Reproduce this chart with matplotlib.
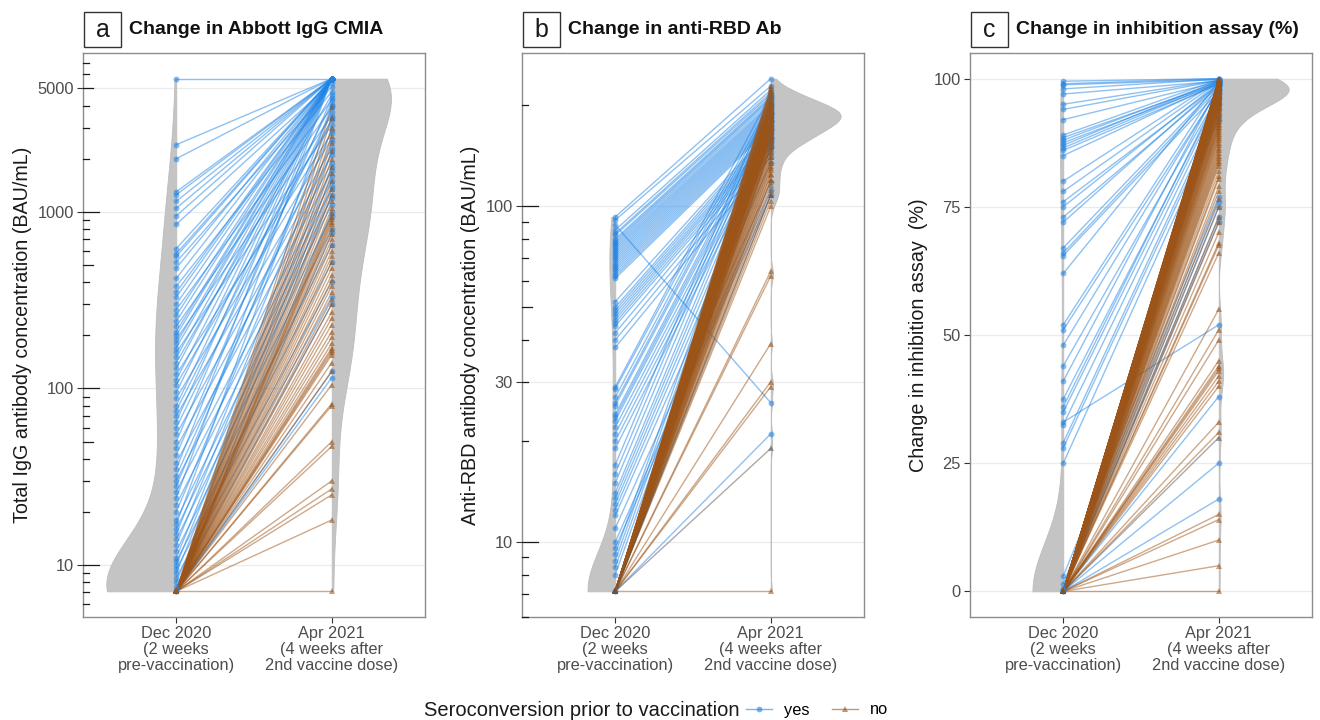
"""Paired antibody changes Dec 2020 -> Apr 2021 for three assays."""

import matplotlib

matplotlib.use("Agg")
import matplotlib.pyplot as plt
import numpy as np
from matplotlib import font_manager
from matplotlib.lines import Line2D
from matplotlib.patches import Rectangle
from matplotlib.ticker import NullLocator
from matplotlib.transforms import blended_transform_factory

TIMEPOINTS = [
    "Dec 2020\n(2 weeks\npre-vaccination)",
    "Apr 2021\n(4 weeks after\n2nd vaccine dose)",
]

# panel a: Abbott IgG CMIA, BAU/mL
A_YES_DEC = [
    5680, 2400, 2000, 1300, 1250, 1150, 1050, 950, 850, 620,
    580, 560, 520, 480, 420, 380, 350, 330, 300, 280,
    260, 240, 225, 210, 200, 190, 180, 170, 160, 150,
    140, 130, 120, 112, 105, 95, 88, 80, 75, 70,
    65, 60, 55, 50, 46, 42, 38, 35, 32, 30,
    28, 26, 24, 22, 20, 18, 17, 16, 15, 14,
    13, 12, 11, 10.5, 10, 9.5, 9, 8.5, 8, 7.5,
    7.1, 7.1, 7.1,
]
A_YES_APR = [
    5680, 5680, 5680, 5680, 5680, 5680, 5680, 5680, 5400, 5680,
    5680, 5680, 5100, 5680, 5680, 4800, 5680, 5680, 5680, 4300,
    5680, 5680, 3900, 5680, 5680, 3500, 5680, 5680, 3100, 5680,
    4600, 5680, 2800, 5680, 3300, 5680, 2600, 5680, 4100, 2300,
    5680, 3700, 2100, 5680, 1900, 4400, 1700, 5680, 2900, 1500,
    3400, 1350, 5680, 1200, 2500, 1100, 4000, 950, 2200, 800,
    1800, 650, 1600, 520, 1400, 400, 1250, 330, 1000, 300,
    760, 125, 115,
]
A_NO_DEC = [
    7.1, 7.1, 7.1, 7.1, 7.1, 7.1, 7.1, 7.1, 7.1, 7.1,
    7.1, 7.1, 7.1, 7.1, 7.1, 7.1, 7.1, 7.1, 7.1, 7.1,
    7.1, 7.1, 7.1, 7.1, 7.1, 7.1, 7.1, 7.1, 7.1, 7.1,
    7.1, 7.1, 7.1, 7.1, 7.1, 7.1, 7.1, 7.1, 7.1, 7.1,
    7.1, 7.1, 7.1, 7.1, 7.1, 7.1, 7.1, 7.1, 7.1, 7.1,
    7.1, 7.1, 7.1, 7.1, 7.1,
]
A_NO_APR = [
    7.1, 18, 25, 27, 30, 47, 50, 80, 82, 105,
    125, 140, 155, 160, 165, 170, 180, 195, 210, 230,
    250, 270, 300, 320, 350, 380, 410, 440, 480, 520,
    560, 600, 650, 700, 750, 800, 850, 880, 910, 940,
    980, 1050, 1150, 1250, 1350, 1500, 1650, 1800, 2000, 2200,
    2450, 2700, 3000, 3400, 3900,
]
A_NA_DEC = []
A_NA_APR = []

# panel b: anti-RBD antibody, BAU/mL
B_YES_DEC = [
    93, 91, 88, 85, 83, 82, 80, 79, 78, 77,
    76, 75, 74, 73, 72, 71, 70, 69, 68, 67,
    66, 65, 64, 63, 62, 61, 52, 50, 49, 48,
    47, 46, 45, 44, 42, 40, 38, 29, 28.5, 27,
    26, 25.5, 24, 23.5, 23, 22, 21, 20, 19, 17,
    16, 15, 14, 13.5, 13, 12.5, 12, 11, 10, 9.6,
    9.2, 8.8, 8.4, 8, 7.13, 7.13,
]
B_YES_APR = [
    240, 228, 26, 222, 218, 215, 212, 210, 208, 205,
    202, 200, 198, 196, 194, 192, 190, 188, 186, 184,
    182, 180, 178, 176, 174, 172, 170, 168, 165, 162,
    160, 158, 155, 152, 150, 145, 140, 215, 205, 200,
    195, 190, 185, 180, 175, 170, 165, 160, 155, 210,
    200, 190, 180, 170, 160, 150, 135, 118, 112, 108,
    190, 180, 170, 160, 21, 150,
]
B_NO_DEC = [
    7.13, 7.13, 7.13, 7.13, 7.13, 7.13, 7.13, 7.13, 7.13, 7.13, 7.13, 7.13, 7.13, 7.13, 7.13,
    7.13, 7.13, 7.13, 7.13, 7.13, 7.13, 7.13, 7.13, 7.13, 7.13, 7.13, 7.13, 7.13, 7.13, 7.13,
    7.13, 7.13, 7.13, 7.13, 7.13, 7.13, 7.13, 7.13, 7.13, 7.13, 7.13, 7.13, 7.13, 7.13, 7.13,
    7.13, 7.13, 7.13, 7.13, 7.13, 7.13, 7.13, 7.13, 7.13, 7.13, 7.13, 7.13, 7.13, 7.13, 7.13,
    7.13, 7.13, 7.13, 7.13, 7.13, 7.13, 7.13, 7.13, 7.13, 7.13, 7.13, 7.13, 7.13, 7.13, 7.13,
    7.13, 7.13, 7.13, 7.13, 7.13, 7.13, 7.13, 7.13, 7.13, 7.13, 7.13, 7.13, 7.13, 7.13, 7.13,
    7.13, 7.13, 7.13, 7.13, 7.13, 7.13, 7.13, 7.13, 7.13, 7.13, 7.13, 7.13, 7.13, 7.13, 7.13,
    7.13, 7.13, 7.13, 7.13, 7.13, 7.13, 7.13, 7.13, 7.13, 7.13,
]
B_NO_APR = [
    7.13, 29, 30, 39, 62, 64, 100, 104, 108, 112, 116, 120, 124, 128, 132,
    136, 140, 144, 148, 150, 152, 154, 156, 158, 160, 161, 162, 163, 164, 165,
    166, 167, 168, 169, 170, 171, 172, 173, 174, 175, 176, 177, 178, 179, 180,
    181, 182, 183, 184, 185, 186, 187, 188, 189, 190, 191, 192, 193, 194, 195,
    196, 197, 198, 199, 200, 201, 202, 203, 204, 205, 206, 208, 210, 212, 214,
    216, 218, 220, 222, 225, 228, 185, 180, 190, 175, 195, 185, 190, 180, 170,
    200, 188, 182, 178, 192, 186, 184, 176, 196, 172, 168, 205, 194, 183, 187,
    150, 140, 130, 120, 160, 155, 145, 135, 125, 165,
]
B_NA_DEC = [7.13, 7.13]
B_NA_APR = [19, 108]

# panel c: inhibition assay, %
C_YES_DEC = [
    99.5, 99, 98.8, 98, 97, 95, 94, 92, 89, 88.5,
    88, 87.5, 87, 86.5, 86, 85, 80, 78, 76, 75,
    73, 72, 67, 66, 65.5, 62, 52, 51, 48, 44,
    41, 37.5, 36, 35, 33, 32.5, 29, 28, 25, 3,
    1.5, 0.5, 0.3, 0.2, 0.1, 0, 0,
]
C_YES_APR = [
    100, 100, 99.8, 99.9, 99.5, 99.7, 99.6, 99.4, 99.8, 99.2,
    99.5, 99, 99.6, 99.3, 98.9, 99.1, 99.7, 99.4, 98.8, 99.2,
    98.5, 99, 98.7, 98.2, 97.5, 99.3, 98.8, 97.8, 98, 97,
    98.5, 96.5, 97.2, 96, 52, 95, 94, 93, 92, 77,
    76, 75, 73, 72, 38, 25, 18,
]
C_NO_DEC = [
    0, 0, 0, 0, 0, 0, 0, 0, 0, 0, 0, 0, 0, 0, 0,
    0, 0, 0, 0, 0, 0, 0, 0, 0, 0, 0, 0, 0, 0, 0,
    0, 0, 0, 0, 0, 0, 0, 0, 0, 0, 0, 0, 0, 0, 0,
    0, 0, 0, 0, 0, 0, 0, 0, 0, 0, 0, 0, 0, 0, 0,
    0, 0, 0, 0, 0, 0, 0, 0, 0, 0, 0, 0, 0, 0, 0,
    0, 0, 0, 0, 0, 0, 0, 0, 0, 0, 0, 0, 0, 0, 0,
    0, 0, 0, 0, 0, 0, 0, 0, 0, 0, 0, 0, 0, 0, 0,
    0, 0, 0, 0, 0, 0, 0, 0, 0, 0, 0, 0, 0, 0, 0,
    0, 0, 0, 0, 0, 0, 0, 0, 0, 0, 0, 0, 0, 0, 0,
    0, 0, 0, 0,
]
C_NO_APR = [
    99.9, 99.8, 99.8, 99.7, 99.7, 99.6, 99.6, 99.5, 99.5, 99.4, 99.4, 99.3, 99.3, 99.2, 99.2,
    99.1, 99.1, 99.0, 99.0, 98.9, 98.9, 98.8, 98.8, 98.7, 98.7, 98.6, 98.6, 98.5, 98.5, 98.4,
    98.4, 98.3, 98.3, 98.2, 98.2, 98.1, 98.1, 98.0, 98.0, 97.9, 97.9, 97.8, 97.8, 97.7, 97.7,
    97.6, 97.6, 97.5, 97.5, 97.4, 97.3, 97.2, 97.1, 97.0, 96.9, 96.8, 96.7, 96.6, 96.5, 96.4,
    96.3, 96.2, 96.1, 96.0, 95.9, 95.8, 95.7, 95.6, 95.5, 95.4, 95.3, 95.2, 95.1, 95.0, 94.8,
    94.6, 94.4, 94.2, 94.0, 93.8, 93.6, 93.4, 93.2, 93.0, 92.7, 92.4, 92.1, 91.8, 91.5, 91.2,
    90.9, 90.6, 90.3, 90.0, 89.6, 89.2, 88.8, 88.4, 88.0, 87.5, 87.0, 86.5, 86.0, 85.5, 85.0,
    84.5, 84.0, 83.5, 83.0, 82.0, 81.0, 80.5, 79.0, 78.0, 76.5, 75.0, 73.0, 72.0, 70.0, 68.0,
    67.5, 66.0, 55.0, 51.0, 49.0, 45.0, 44.0, 43.5, 43.0, 42.0, 41.0, 40.0, 33.0, 31.0, 15.0,
    14.0, 10.0, 5.0, 0.0,
]
C_NA_DEC = [0]
C_NA_APR = [30]

BLUE = "#1f84e6"
BROWN = "#9c5418"
GREY_NA = "#555555"
VIOLIN = "#c4c4c4"

_names = {f.name for f in font_manager.fontManager.ttflist}
SANS = "Liberation Sans" if "Liberation Sans" in _names else "DejaVu Sans"
NARROW = "Liberation Sans Narrow" if "Liberation Sans Narrow" in _names else None
plt.rcParams["font.family"] = SANS

W, H = 1320, 720
AX_LEFT = [83, 522, 970]
AX_W = 342
AX_TOP, AX_BOT = 53, 617


def nrd0(v):
    v = np.asarray(v, float)
    sd = v.std(ddof=1)
    q75, q25 = np.percentile(v, [75, 25])
    lo = min(sd, (q75 - q25) / 1.34)
    if lo <= 0:
        lo = sd if sd > 0 else 1.0
    return 0.9 * lo * len(v) ** -0.2


def density(v, n=512):
    v = np.asarray(v, float)
    bw = nrd0(v)
    grid = np.linspace(v.min(), v.max(), n)
    z = (grid[:, None] - v[None, :]) / bw
    d = np.exp(-0.5 * z * z).sum(axis=1) / (len(v) * bw * np.sqrt(2 * np.pi))
    return grid, d


def log_ticks(ax, lo, hi):
    trans = blended_transform_factory(ax.transAxes, ax.transData)
    for dec in range(int(np.floor(np.log10(lo))), int(np.ceil(np.log10(hi))) + 1):
        for m in range(1, 10):
            v = m * 10.0 ** dec
            if not lo <= v <= hi:
                continue
            length = 16 if m == 1 else (10 if m == 5 else 5.5)
            ax.plot([0, length / AX_W], [v, v], transform=trans,
                    color="#1a1a1a", lw=0.9, zorder=6, clip_on=False)


def draw_panel(i, letter, title, ylabel, log, yticks, groups):
    left = AX_LEFT[i]
    ax = fig.add_axes([left / W, (H - AX_BOT) / H, AX_W / W, (AX_BOT - AX_TOP) / H])
    dec_all = np.concatenate([np.asarray(g[0], float) for g in groups if len(g[0])])
    apr_all = np.concatenate([np.asarray(g[1], float) for g in groups if len(g[1])])
    tf = np.log10 if log else (lambda x: x)
    inv = (lambda x: 10.0 ** x) if log else (lambda x: x)

    # half violins, area-scaled like ggplot
    gd, dd = density(tf(dec_all))
    ga, da = density(tf(apr_all))
    scale = 0.45 / max(dd.max(), da.max())
    ax.fill_betweenx(inv(gd), -dd * scale, 0, facecolor=VIOLIN,
                     edgecolor="#bdbdbd", lw=0.6, zorder=1)
    ax.fill_betweenx(inv(ga), 1, 1 + da * scale, facecolor=VIOLIN,
                     edgecolor="#bdbdbd", lw=0.6, zorder=1)

    styles = {"yes": (BLUE, "o", 4.2), "no": (BROWN, "^", 5.0), "na": (GREY_NA, "^", 5.0)}
    for dec, apr, key in groups:
        if not len(dec):
            continue
        color = styles[key][0]
        ax.plot([0, 1], np.vstack([dec, apr]), color=color, alpha=0.5, lw=1.0, zorder=3)
    for dec, apr, key in groups:
        if not len(dec):
            continue
        color, marker, ms = styles[key]
        ax.plot(np.zeros(len(dec)), dec, ls="none", marker=marker, ms=ms,
                color=color, alpha=0.55, mew=0, zorder=4)
        ax.plot(np.ones(len(apr)), apr, ls="none", marker=marker, ms=ms,
                color=color, alpha=0.55, mew=0, zorder=4)

    lo_t = tf(min(dec_all.min(), apr_all.min()))
    hi_t = tf(max(dec_all.max(), apr_all.max()))
    pad = 0.05 * (hi_t - lo_t)
    if log:
        ax.set_yscale("log")
    ax.set_ylim(inv(lo_t - pad), inv(hi_t + pad))
    ax.set_xlim(-0.6, 1.6)
    ax.set_yticks(yticks)
    ax.set_yticklabels([str(t) for t in yticks])
    ax.yaxis.set_minor_locator(NullLocator())
    ax.set_xticks([0, 1])
    ax.set_xticklabels(TIMEPOINTS, linespacing=1.1)
    ax.tick_params(axis="both", direction="out", length=4, width=0.8,
                   color="#333333", labelcolor="#4d4d4d", labelsize=11.8, pad=2.5)
    ax.set_axisbelow(True)
    ax.yaxis.grid(True, color="#ebebeb", lw=0.9)
    for sp in ax.spines.values():
        sp.set_color("#8c8c8c")
        sp.set_linewidth(1.0)
    ax.set_ylabel(ylabel, fontsize=14.2, color="#1a1a1a", labelpad=4)
    if log:
        lo, hi = ax.get_ylim()
        log_ticks(ax, lo, hi)

    fig.add_artist(Rectangle(((left + 1) / W, (H - 47) / H), 37 / W, 35 / H,
                             transform=fig.transFigure, fill=False,
                             ec="#333333", lw=1.0))
    fig.text((left + 19.5) / W, (H - 30) / H, letter, ha="center", va="center",
             fontsize=18, color="#1a1a1a")
    if NARROW:
        fig.text((left + 46) / W, (H - 30) / H, title, ha="left", va="center",
                 fontsize=16.8, fontweight="bold", family=NARROW, color="#111111")
    else:
        fig.text((left + 46) / W, (H - 30) / H, title, ha="left", va="center",
                 fontsize=14, fontweight="bold", color="#111111")
    return ax


fig = plt.figure(figsize=(W / 100, H / 100), dpi=100)

draw_panel(0, "a", "Change in Abbott IgG CMIA",
           "Total IgG antibody concentration (BAU/mL)", True, [10, 100, 1000, 5000],
           [(A_YES_DEC, A_YES_APR, "yes"), (A_NO_DEC, A_NO_APR, "no"),
            (A_NA_DEC, A_NA_APR, "na")])
draw_panel(1, "b", "Change in anti-RBD Ab",
           "Anti-RBD antibody concentration (BAU/mL)", True, [10, 30, 100],
           [(B_YES_DEC, B_YES_APR, "yes"), (B_NO_DEC, B_NO_APR, "no"),
            (B_NA_DEC, B_NA_APR, "na")])
draw_panel(2, "c", "Change in inhibition assay (%)",
           "Change in inhibition assay  (%)", False, [0, 25, 50, 75, 100],
           [(C_YES_DEC, C_YES_APR, "yes"), (C_NO_DEC, C_NO_APR, "no"),
            (C_NA_DEC, C_NA_APR, "na")])

handles = [
    Line2D([], [], color=BLUE, marker="o", ms=4.2, lw=1.0, alpha=0.6, mew=0),
    Line2D([], [], color=BROWN, marker="^", ms=5.0, lw=1.0, alpha=0.6, mew=0),
]
fig.text(740 / W, 10 / H, "Seroconversion prior to vaccination", ha="right",
         va="center", fontsize=14.5, color="#1a1a1a")
fig.legend(handles, ["yes", "no"], loc="center left", bbox_to_anchor=(746 / W, 10 / H),
           ncol=2, frameon=False, fontsize=11.8, handlelength=1.6,
           handletextpad=0.7, columnspacing=1.4, borderpad=0, borderaxespad=0)

fig.savefig("out.png", dpi=100)
